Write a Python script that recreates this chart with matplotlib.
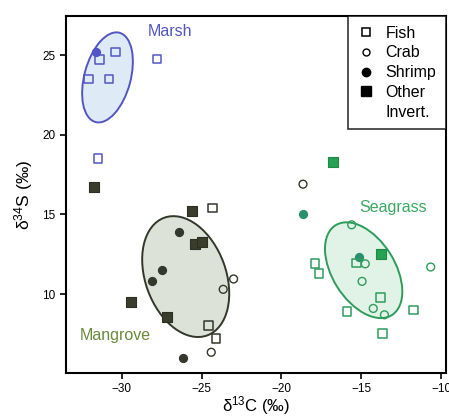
import matplotlib
matplotlib.use("Agg")
import matplotlib.pyplot as plt
from matplotlib.patches import Ellipse
from matplotlib.lines import Line2D

plt.rcParams['font.family'] = ['Liberation Sans', 'DejaVu Sans']
plt.rcParams['mathtext.fontset'] = 'custom'
plt.rcParams['mathtext.rm'] = 'Liberation Sans'
plt.rcParams['mathtext.it'] = 'Liberation Sans'

# ---- data (d13C, d34S) ----
marsh_fish_x = [-30.4, -31.4, -32.1, -30.8, -27.8, -31.5]
marsh_fish_y = [25.2, 24.7, 23.5, 23.5, 24.75, 18.5]
marsh_shrimp_x = [-31.6]
marsh_shrimp_y = [25.2]

mang_other_x = [-25.6, -25.4, -25.0, -29.4, -27.2, -31.75]
mang_other_y = [15.2, 13.15, 13.3, 9.5, 8.55, 16.7]
mang_fish_x = [-24.3, -24.55, -24.1]
mang_fish_y = [15.4, 8.05, 7.2]
mang_crab_x = [-23.0, -23.65, -24.4, -18.65]
mang_crab_y = [10.95, 10.3, 6.35, 16.9]
mang_shrimp_x = [-26.4, -27.5, -28.1, -26.2]
mang_shrimp_y = [13.9, 11.5, 10.8, 6.0]

sea_other_x = [-16.8, -13.75]
sea_other_y = [18.3, 12.5]
sea_shrimp_x = [-18.65, -15.15]
sea_shrimp_y = [15.0, 12.3]
sea_fish_x = [-17.9, -17.65, -15.3, -13.8, -15.9, -11.75, -13.65]
sea_fish_y = [11.9, 11.3, 11.95, 9.8, 8.9, 9.0, 7.55]
sea_crab_x = [-15.6, -14.75, -14.95, -14.25, -13.55, -10.65]
sea_crab_y = [14.35, 11.9, 10.8, 9.1, 8.7, 11.7]

# ellipses: center x, center y, width, height, angle
ell_marsh = (-30.9, 23.6, 2.9, 5.8, -15)
ell_mang = (-26.0, 11.1, 5.05, 7.86, 20)
ell_sea = (-14.85, 11.5, 3.92, 6.65, 32)

legend_labels = ['Fish', 'Crab', 'Shrimp', 'Other', 'Invert.']

blue = '#5356c2'
blue_fill = '#dfeaf7'
dark = '#33372a'
dark_fill = '#dde2d8'
green = '#2e9c5c'
green_fill = '#e1f2e7'

fig = plt.figure(figsize=(4.49, 4.16), dpi=100)
ax = fig.add_axes([0.147, 0.1034, 0.846, 0.858])
ax.set_xlim(-33.5, -9.7)
ax.set_ylim(5.05, 27.45)

for (cx, cy, w, h, a), ec, fc in [(ell_marsh, blue, blue_fill),
                                   (ell_mang, dark, dark_fill),
                                   (ell_sea, green, green_fill)]:
    ax.add_patch(Ellipse((cx, cy), w, h, angle=a, facecolor=fc,
                         edgecolor=ec, lw=1.4, zorder=1))

sq = 40
ci = 32
# marsh
ax.scatter(marsh_fish_x, marsh_fish_y, marker='s', s=sq, facecolor='none', edgecolor=blue, lw=1.1, zorder=3)
ax.scatter(marsh_shrimp_x, marsh_shrimp_y, marker='o', s=ci, facecolor=blue, edgecolor=blue, zorder=3)
# mangrove
ax.scatter(mang_other_x, mang_other_y, marker='s', s=48, facecolor='#3a3d2c', edgecolor='#2c2f22', lw=0.8, zorder=3)
ax.scatter(mang_fish_x, mang_fish_y, marker='s', s=sq, facecolor='none', edgecolor=dark, lw=1.1, zorder=3)
ax.scatter(mang_crab_x, mang_crab_y, marker='o', s=ci, facecolor='none', edgecolor=dark, lw=1.0, zorder=3)
ax.scatter(mang_shrimp_x, mang_shrimp_y, marker='o', s=ci, facecolor='#34372b', edgecolor='#34372b', zorder=3)
# seagrass
ax.scatter(sea_other_x, sea_other_y, marker='s', s=48, facecolor='#27a153', edgecolor='#1f8a45', lw=0.8, zorder=3)
ax.scatter(sea_shrimp_x, sea_shrimp_y, marker='o', s=ci, facecolor='#2a8f6c', edgecolor='#2a8f6c', zorder=3)
ax.scatter(sea_fish_x, sea_fish_y, marker='s', s=sq, facecolor='none', edgecolor=green, lw=1.1, zorder=3)
ax.scatter(sea_crab_x, sea_crab_y, marker='o', s=ci, facecolor='none', edgecolor=green, lw=1.0, zorder=3)

ax.text(-27.0, 26.5, 'Marsh', color=blue, fontsize=11.5, ha='center', va='center')
ax.text(-30.4, 7.42, 'Mangrove', color='#6a8a3c', fontsize=11.5, ha='center', va='center')
ax.text(-13.0, 15.46, 'Seagrass', color='#3aa862', fontsize=11.5, ha='center', va='center')

ax.set_xticks([-30, -25, -20, -15, -10])
ax.set_yticks([10, 15, 20, 25])
ax.tick_params(axis='both', labelsize=8.5, length=4, width=1.2, direction='out')
for s in ax.spines.values():
    s.set_linewidth(1.5)
ax.set_xlabel(r'δ$^{13}$C (‰)', fontsize=12, labelpad=-1)
ax.set_ylabel(r'δ$^{34}$S (‰)', fontsize=12.5, labelpad=5)

# legend box
handles = [Line2D([], [], marker='s', ls='none', mfc='none', mec='black', ms=6, mew=1.1),
           Line2D([], [], marker='o', ls='none', mfc='none', mec='black', ms=5, mew=1.0),
           Line2D([], [], marker='o', ls='none', mfc='black', mec='black', ms=6),
           Line2D([], [], marker='s', ls='none', mfc='black', mec='black', ms=6.5),
           Line2D([], [], ls='none')]
leg = ax.legend(handles, legend_labels, loc='upper right', fontsize=11.5, frameon=True,
                fancybox=False, edgecolor='black', borderpad=0.6, labelspacing=0.3,
                handlelength=1.0, handletextpad=0.75, borderaxespad=0.0)
leg.get_frame().set_linewidth(1.2)

fig.savefig('out.png', dpi=100, facecolor='white')
